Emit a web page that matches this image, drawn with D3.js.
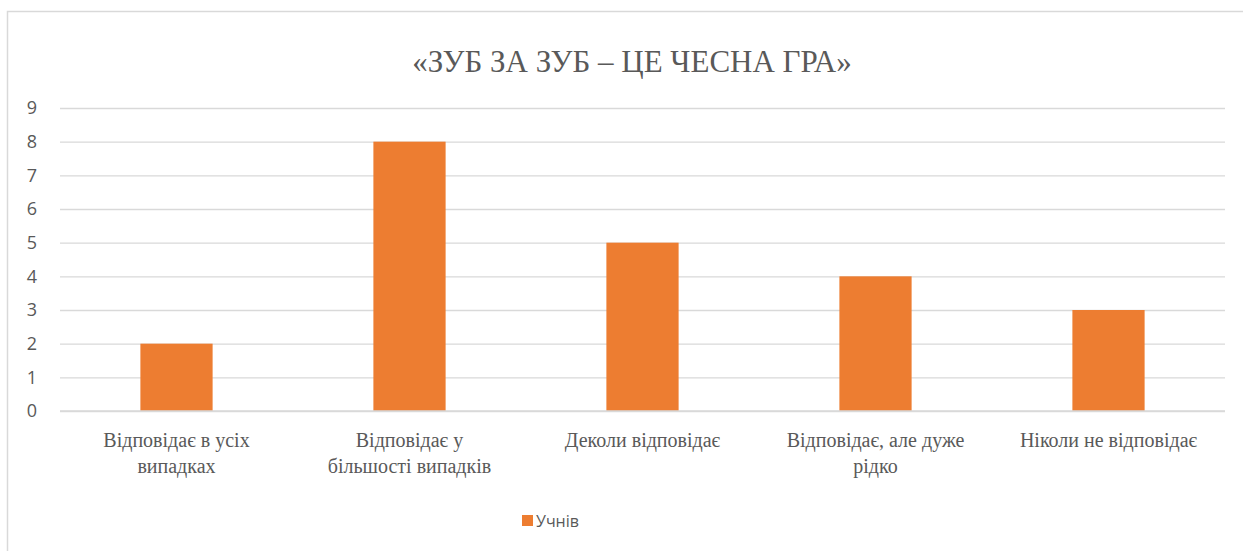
<!DOCTYPE html>
<html><head><meta charset="utf-8">
<script src="https://cdn.jsdelivr.net/npm/d3@7"></script>
</head><body style="margin:0">
<svg id="c" width="1243" height="551"></svg>
<script>
const title = "«ЗУБ ЗА ЗУБ – ЦЕ ЧЕСНА ГРА»";
const categories = [
  ["Відповідає в усіх", "випадках"],
  ["Відповідає у", "більшості випадків"],
  ["Деколи відповідає"],
  ["Відповідає, але дуже", "рідко"],
  ["Ніколи не відповідає"]
];
const values = [2, 8, 5, 4, 3];
const yTicks = [0,1,2,3,4,5,6,7,8,9];
const seriesName = "Учнів";

const svg = d3.select("#c");
svg.append("rect").attr("x",7.5).attr("y",11.5).attr("width",1250).attr("height",560)
  .attr("fill","#fff").attr("stroke","#d9d9d9").attr("stroke-width",1.5);

const L=60, R=1225, T=108, B=411;
const x = d3.scaleBand().domain(d3.range(values.length)).range([L,R]).paddingInner(0.69).paddingOuter(0.345);
const y = d3.scaleLinear().domain([0,9]).range([B,T]);

svg.append("text").style("font-family",'"Times New Roman"').attr("x",632).attr("y",72).attr("text-anchor","middle")
  .attr("font-size",31).attr("fill","#595959").text(title);

const yAxis = d3.axisLeft(y).tickValues(yTicks).tickSize(-(R-L)).tickPadding(23);
const g = svg.append("g").attr("transform",`translate(${L},0)`).call(yAxis);
g.select(".domain").remove();
g.attr("font-family", '"Open Sans"').attr("font-size",18);
g.selectAll(".tick line").attr("stroke","#d9d9d9").attr("stroke-width",1.3);
g.selectAll(".tick text").attr("fill","#595959");

svg.selectAll(".bar").data(values).join("rect")
  .attr("x",(d,i)=>x(i)).attr("width",x.bandwidth())
  .attr("y",d=>y(d)).attr("height",d=>y(0)-y(d)).attr("fill","#ed7d31");

svg.append("line").attr("x1",L).attr("x2",R).attr("y1",B).attr("y2",B).attr("stroke","#d9d9d9").attr("stroke-width",1.3);

const xl = svg.append("g").style("font-family",'"Times New Roman"');
categories.forEach((lines,i)=>{
  const cx = x(i)+x.bandwidth()/2;
  const t = xl.append("text").attr("x",cx).attr("y",447).attr("text-anchor","middle")
    .attr("font-size",20).attr("fill","#595959");
  lines.forEach((ln,j)=>t.append("tspan").attr("x",cx).attr("dy",j?26:0).text(ln));
});

svg.append("rect").attr("x",522).attr("y",515).attr("width",11).attr("height",11).attr("fill","#ed7d31");
svg.append("text").style("font-family",'"Open Sans"').attr("x",536).attr("y",526.5)
  .attr("font-size",16).attr("fill","#595959").text(seriesName);
</script>
</body></html>
